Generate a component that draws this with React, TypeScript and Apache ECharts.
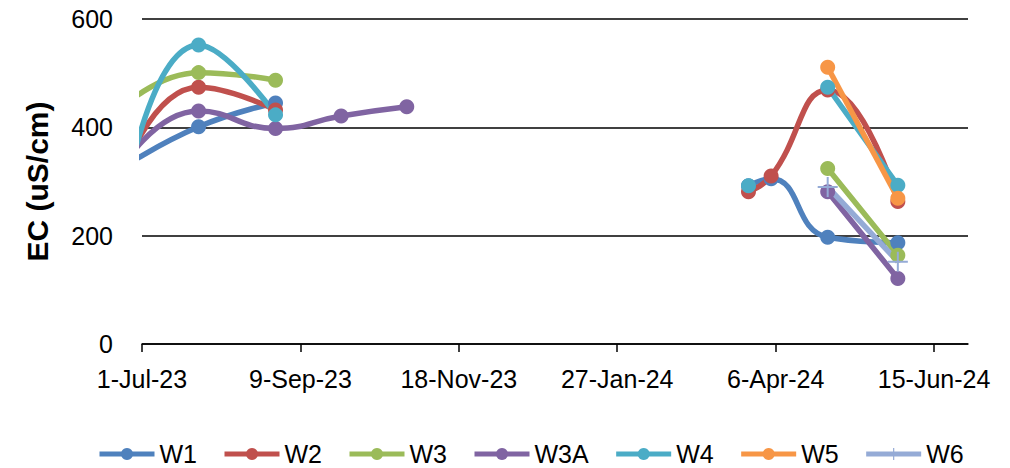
import React, { useEffect, useRef } from "react";
import * as echarts from "echarts";

const sampleDates = [
  "2023-06-21",
  "2023-07-26",
  "2023-08-29",
  "2023-09-27",
  "2023-10-26",
  "2024-03-25",
  "2024-04-04",
  "2024-04-29",
  "2024-05-30",
];

const seriesNames = ["W1", "W2", "W3", "W3A", "W4", "W5", "W6"];
const W1 = [322, 401, 445, null, null, 292, 305, 197, 187];
const W2 = [300, 474, 432, null, null, 281, 310, 469, 263];
const W3 = [432, 501, 487, null, null, null, null, 324, 164];
const W3A = [320, 430, 398, 421, 438, null, null, 281, 121];
const W4 = [225, 552, 423, null, null, 292, null, 474, 293];
const W5 = [null, null, null, null, null, null, null, 511, 269];
const W6 = [null, null, null, null, null, null, null, 290, 152];
const seriesValues = [W1, W2, W3, W3A, W4, W5, W6];
const colors = ["#4F81BD", "#C0504D", "#9BBB59", "#8064A2", "#4BACC6", "#F79646", "#95ABD6"];

const yTicks = [0, 200, 400, 600];
const AXIS_START = "2023-07-01";
const AXIS_END = "2024-06-30";
const TICK_DAYS = 70;

const DAY = 86400000;
const START = Date.parse(AXIS_START + "T00:00:00Z");
const toDay = (s: string) => (Date.parse(s + "T00:00:00Z") - START) / DAY;
const MONTHS = ["Jan", "Feb", "Mar", "Apr", "May", "Jun", "Jul", "Aug", "Sep", "Oct", "Nov", "Dec"];
const fmt = (d: number) => {
  const dt = new Date(START + d * DAY);
  return `${dt.getUTCDate()}-${MONTHS[dt.getUTCMonth()]}-${String(dt.getUTCFullYear()).slice(2)}`;
};

const FONT = "'Liberation Sans', Arial, sans-serif";
const PLUS = "path://M9,0h2v9h9v2h-9v9h-2v-9h-9v-2h9z";

export default function App() {
  const ref = useRef<HTMLDivElement>(null);
  useEffect(() => {
    document.body.style.margin = "0";
    if (!ref.current) return;
    const chart = echarts.init(ref.current, null, { renderer: "svg" });
    const series = seriesNames.map((name, i) => ({
      name,
      type: "line",
      smooth: 0.5,
      connectNulls: false,
      data: sampleDates.map((d, j) => [toDay(d), seriesValues[i][j]]),
      symbol: name === "W6" ? PLUS : "circle",
      symbolSize: name === "W6" ? 20 : 15,
      showSymbol: true,
      lineStyle: { width: 5.5, color: colors[i] },
      itemStyle: { color: colors[i] },
      emphasis: { disabled: true },
    }));
    chart.setOption({
      animation: false,
      color: colors,
      textStyle: { fontFamily: FONT },
      grid: { left: 142, right: 42, top: 19, bottom: 124, containLabel: false },
      xAxis: {
        type: "value",
        min: 0,
        max: toDay(AXIS_END),
        interval: TICK_DAYS,
        axisLine: { show: true, lineStyle: { color: "#000", width: 1.5 } },
        axisTick: { show: true, inside: false, length: 8, lineStyle: { color: "#000", width: 1.5 } },
        axisLabel: {
          formatter: (v: number) => fmt(v),
          fontSize: 25,
          color: "#000",
          fontFamily: FONT,
          margin: 22,
          showMaxLabel: false,
        },
        splitLine: { show: false },
      },
      yAxis: {
        type: "value",
        min: yTicks[0],
        max: yTicks[yTicks.length - 1],
        interval: yTicks[1] - yTicks[0],
        name: "EC (uS/cm)",
        nameLocation: "middle",
        nameRotate: 90,
        nameGap: 90,
        nameTextStyle: { fontSize: 30, fontWeight: "bold", color: "#000", fontFamily: FONT },
        axisLine: { show: false },
        axisTick: { show: false },
        axisLabel: { fontSize: 25, color: "#000", fontFamily: FONT, margin: 29 },
        splitLine: { show: true, lineStyle: { color: "#000", width: 1.5 } },
      },
      legend: {
        data: seriesNames,
        top: 441,
        left: 92,
        padding: [0, 5, 0, 5],
        itemWidth: 55,
        itemHeight: 15,
        itemGap: 25,
        lineStyle: { width: 5 },
        textStyle: { fontSize: 25, lineHeight: 26, color: "#000", fontFamily: FONT, padding: [0, 0, 0, 0] },
      },
      series,
    });
    return () => chart.dispose();
  }, []);
  return <div ref={ref} style={{ width: 1010, height: 468 }} />;
}
